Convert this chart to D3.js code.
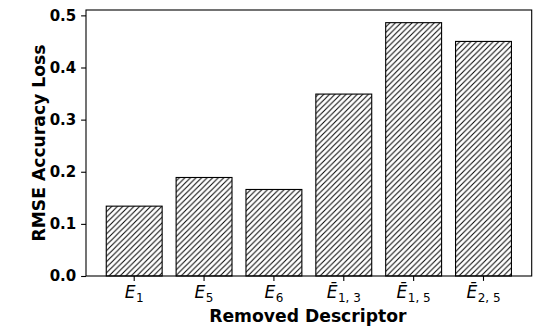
<!DOCTYPE html>
<html>
<head>
<meta charset="utf-8">
<script src="https://cdn.jsdelivr.net/npm/d3@7"></script>
<style>
  body { margin: 0; background: #fff; }
  svg { display: block; }
</style>
</head>
<body>
<svg id="chart" width="542" height="333"></svg>
<script>
// data
const descriptors = ['E1', 'E5', 'E6', 'E13', 'E15', 'E25'];
const mainLetter = ['E', 'E', 'E', '\u0112', '\u0112', '\u0112'];
const subscripts = ['1', '5', '6', '1, 3', '1, 5', '2, 5'];
const rmseLoss = [0.134, 0.189, 0.166, 0.349, 0.486, 0.450];
const yTicks = [0, 0.1, 0.2, 0.3, 0.4, 0.5];

const W = 542, H = 333;
const margin = { top: 10, right: 10.3, bottom: 57, left: 86 };
const innerW = W - margin.left - margin.right;
const innerH = H - margin.top - margin.bottom;

const svg = d3.select('#chart');

// hatch '///' like matplotlib at 100 dpi (18 lines per inch)
const hs = 100 / 18;
const pat = svg.append('defs').append('pattern')
    .attr('id', 'hatch')
    .attr('patternUnits', 'userSpaceOnUse')
    .attr('width', hs).attr('height', hs);
pat.append('rect').attr('width', hs).attr('height', hs).attr('fill', '#fff');
pat.append('path')
    .attr('d', `M0,${hs} L${hs},0 M${-hs / 2},${hs / 2} L${hs / 2},${-hs / 2} M${hs / 2},${hs * 1.5} L${hs * 1.5},${hs / 2}`)
    .attr('stroke', '#000').attr('stroke-width', 1.0);

const g = svg.append('g').attr('transform', `translate(${margin.left},${margin.top})`);

const x = d3.scaleBand()
    .domain(descriptors)
    .range([0, innerW])
    .paddingInner(0.2)
    .paddingOuter(0.29);

const y = d3.scaleLinear()
    .domain([0, d3.max(rmseLoss) * 1.05])
    .range([innerH, 0]);

// bars
g.selectAll('rect.bar')
    .data(rmseLoss)
    .join('rect')
    .attr('class', 'bar')
    .attr('x', (d, i) => x(descriptors[i]))
    .attr('y', d => y(d))
    .attr('width', x.bandwidth())
    .attr('height', d => y(0) - y(d))
    .attr('fill', 'url(#hatch)')
    .attr('stroke', '#000')
    .attr('stroke-width', 1.1);

// y axis
const yAxis = g.append('g')
    .call(d3.axisLeft(y).tickValues(yTicks).tickFormat(d3.format('.1f')).tickSize(4.9).tickPadding(4.9));
yAxis.selectAll('text')
    .style('font-family', "'DejaVu Sans', sans-serif")
    .style('font-size', '15px')
    .style('font-weight', 'bold')
    .attr('fill', '#000');

// x axis
const xAxis = g.append('g')
    .attr('transform', `translate(0,${innerH})`)
    .call(d3.axisBottom(x).tickFormat('').tickSize(4.9));
xAxis.selectAll('.tick text').each(function (d, i) {
    const t = d3.select(this)
        .attr('y', 22).attr('dy', 0)
        .attr('fill', '#000')
        .style('font-family', "'DejaVu Sans', sans-serif")
        .style('font-size', '17px');
    t.text(null);
    t.append('tspan').style('font-style', 'italic').text(mainLetter[i]);
    t.append('tspan').attr('dx', 0.5).attr('dy', 3.5).style('font-size', '12px').text(subscripts[i]);
});

// domain lines / ticks styling
g.selectAll('.domain').remove();
g.selectAll('.tick line').attr('stroke', '#000').attr('stroke-width', 1.1);

// frame
g.append('rect')
    .attr('width', innerW).attr('height', innerH)
    .attr('fill', 'none')
    .attr('stroke', '#000')
    .attr('stroke-width', 1.1);

// axis labels
svg.append('text')
    .attr('x', margin.left + innerW / 2 - 1)
    .attr('y', 321.5)
    .attr('text-anchor', 'middle')
    .style('font-family', "'DejaVu Sans', sans-serif")
    .style('font-size', '17.2px')
    .style('font-weight', 'bold')
    .text('Removed Descriptor');

svg.append('text')
    .attr('transform', `translate(45,${margin.top + innerH / 2}) rotate(-90)`)
    .attr('text-anchor', 'middle')
    .style('font-family', "'DejaVu Sans', sans-serif")
    .style('font-size', '17.2px')
    .style('font-weight', 'bold')
    .text('RMSE Accuracy Loss');
</script>
</body>
</html>
